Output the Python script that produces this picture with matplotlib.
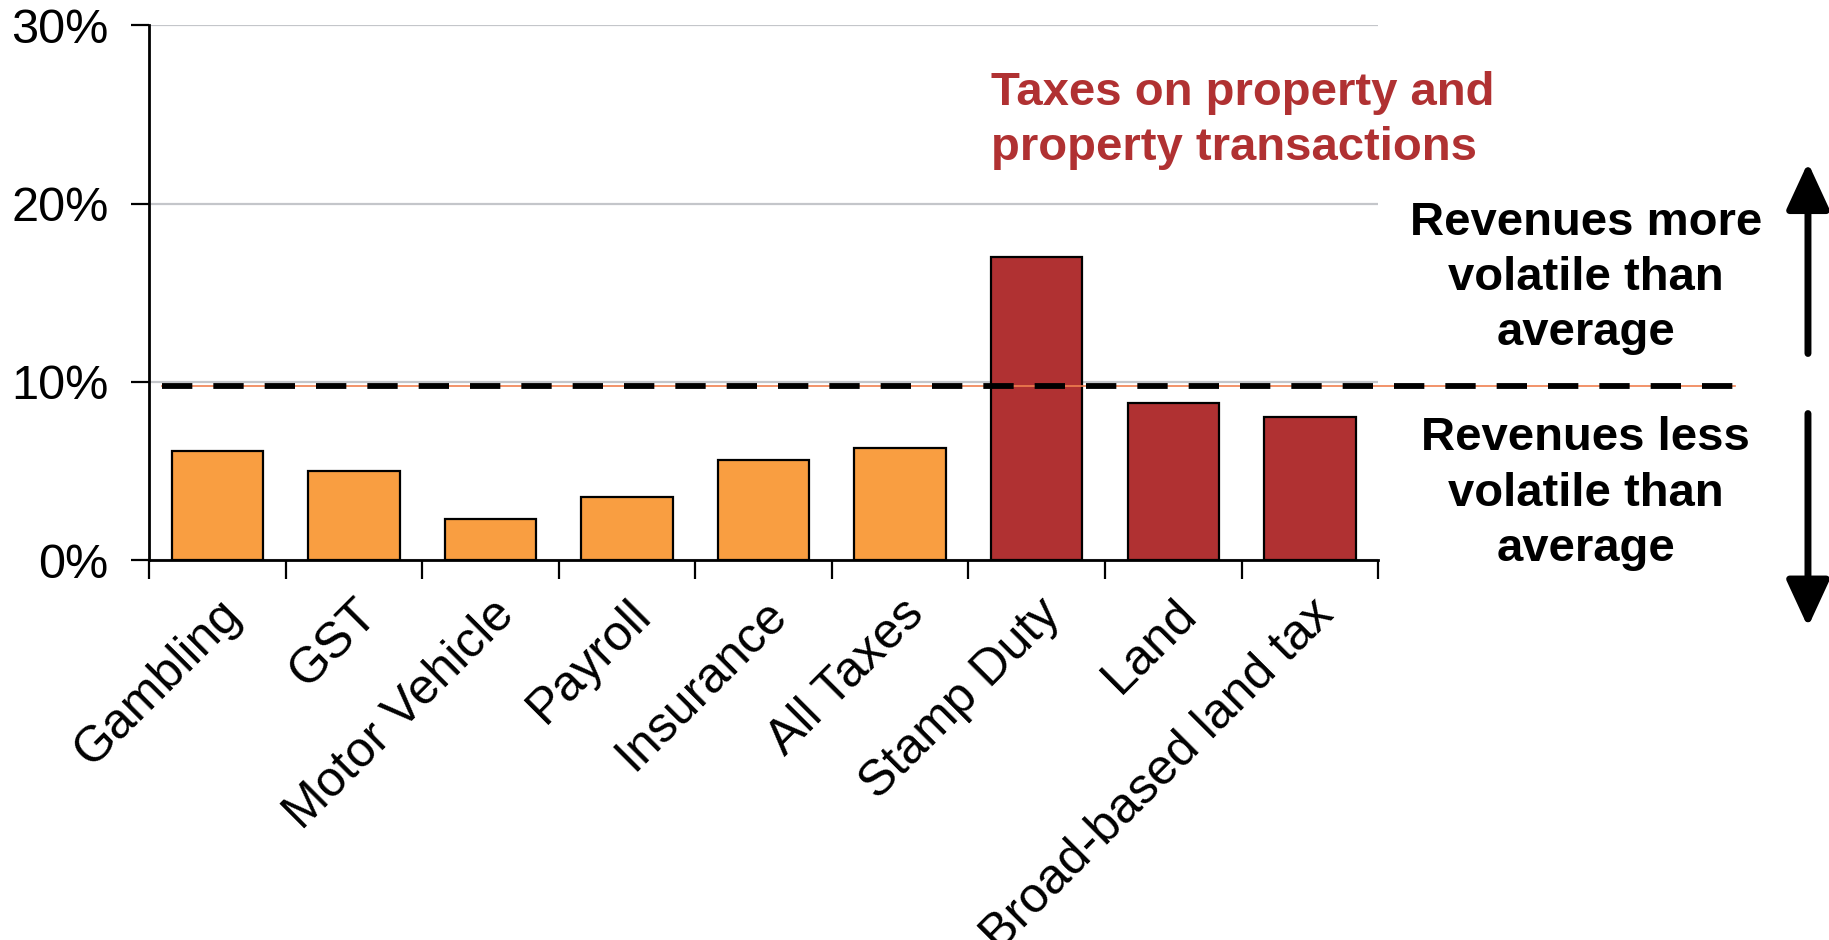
import matplotlib
matplotlib.use('Agg')
import matplotlib.pyplot as plt
import matplotlib.transforms as mtransforms
import numpy as np

plt.rcParams['font.family'] = ['Liberation Sans', 'DejaVu Sans']

# volatility of state tax revenues (%)
categories = ['Gambling', 'GST', 'Motor Vehicle', 'Payroll', 'Insurance',
              'All Taxes', 'Stamp Duty', 'Land', 'Broad-based land tax']
volatility = [6.1, 5.0, 2.3, 3.55, 5.6, 6.3, 17.0, 8.8, 8.05]
is_property = [False, False, False, False, False, False, True, True, True]
average = 9.75
y_ticks = [0, 10, 20, 30]
y_labels = ['0%', '10%', '20%', '30%']

orange = '#F99E41'
darkred = '#B03132'

fig = plt.figure(figsize=(18.29, 9.40), dpi=100)
ax = fig.add_axes([0.0815, 0.404, 0.672, 0.569])

x = np.arange(len(categories))
colors = [darkred if p else orange for p in is_property]
ax.bar(x, volatility, width=0.67, color=colors, edgecolor='black', linewidth=1.6, zorder=3)

ax.set_xlim(-0.5, len(categories) - 0.5)
ax.set_ylim(0, 30)
ax.set_yticks(y_ticks)
ax.set_yticklabels(y_labels, fontsize=35)
ax.yaxis.grid(True, color='#C4C6CA', linewidth=1.6, zorder=0)

ax.set_xticks(x)
ax.set_xticklabels(categories, fontsize=36, rotation=45, ha='right', rotation_mode='anchor')
ax.set_xticks(np.arange(-0.5, len(categories)), minor=True)
ax.tick_params(axis='x', which='major', length=0, pad=22)
ax.tick_params(axis='x', which='minor', length=14, width=1.6, direction='out')
ax.tick_params(axis='y', length=13, width=1.6, direction='out', pad=16)

for side in ['top', 'right']:
    ax.spines[side].set_visible(False)
for side in ['left', 'bottom']:
    ax.spines[side].set_linewidth(2)

# average line running out into the right margin
trans = mtransforms.blended_transform_factory(ax.transAxes, ax.transData)
ax.plot([0.0106, 1.29], [average, average], transform=trans, color='#F08050',
        linewidth=1.2, clip_on=False, zorder=4)
ax.plot([0.0106, 1.29], [average, average], transform=trans, color='black',
        linewidth=4.2, dashes=(5.2, 3.6), clip_on=False, zorder=5)

fig.text(0.542, 0.872, 'Taxes on property and\nproperty transactions', color=darkred,
         fontsize=34, fontweight='bold', ha='left', va='center', linespacing=1.33)
fig.text(0.867, 0.704, 'Revenues more\nvolatile than\naverage', color='black',
         fontsize=34, fontweight='bold', ha='center', va='center', linespacing=1.33)
fig.text(0.867, 0.475, 'Revenues less\nvolatile than\naverage', color='black',
         fontsize=34, fontweight='bold', ha='center', va='center', linespacing=1.33)

arrow_style = dict(arrowstyle='-|>,head_length=1.3,head_width=0.6', color='black', lw=5)
fig.add_artist(matplotlib.patches.FancyArrowPatch((0.9885, 0.621), (0.9885, 0.830),
               transform=fig.transFigure, mutation_scale=22, **arrow_style))
fig.add_artist(matplotlib.patches.FancyArrowPatch((0.9885, 0.563), (0.9885, 0.330),
               transform=fig.transFigure, mutation_scale=22, **arrow_style))

fig.savefig('out.png', dpi=100)
